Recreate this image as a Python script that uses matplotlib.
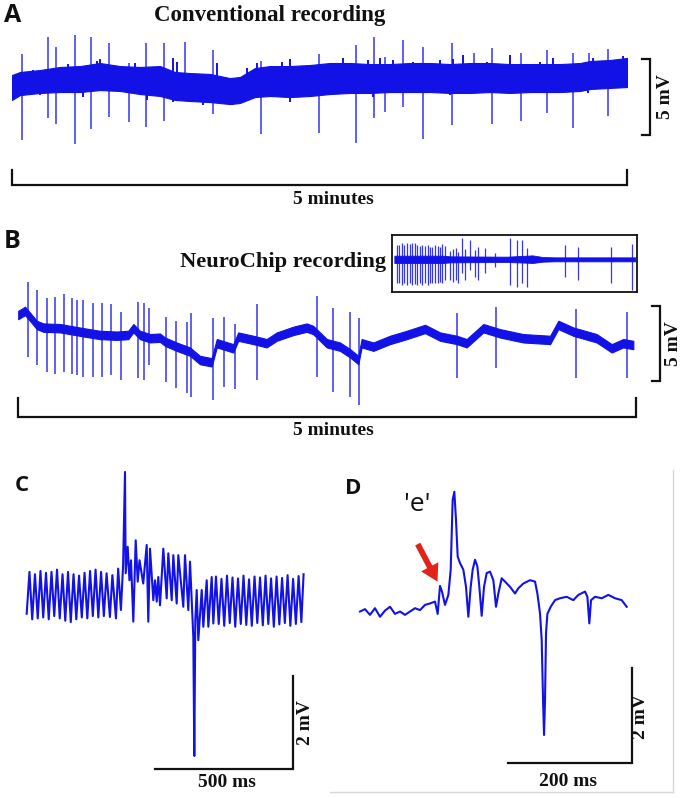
import matplotlib
matplotlib.use('Agg')
import matplotlib.pyplot as plt

# ---------------- dados ----------------
# Painel A: registro convencional (t em s, v em mV), envelope da faixa de ruido
a_t = [0, 3.9, 13.7, 23.4, 33.2, 42.9, 52.7, 62.4, 72.2, 79.5, 86.8, 96.6, 106.3, 111.2,
       118.5, 125.9, 135.6, 145.4, 155.1, 164.9, 174.6, 184.4, 194.1, 203.9, 213.7, 223.4,
       233.2, 242.9, 252.7, 267.3, 277.1, 282, 291.7, 300]
a_hi = [0.46, 0.66, 0.79, 0.99, 1.05, 1.25, 1.05, 0.99, 1.05, 0.66, 0.59, 0.53, 0.26, 0.33,
        0.92, 1.05, 1.05, 1.12, 1.25, 1.25, 1.18, 1.18, 1.25, 1.25, 1.18, 1.25, 1.25, 1.18,
        1.18, 1.18, 1.25, 1.38, 1.45, 1.58]
a_lo = [-1.18, -0.86, -0.72, -0.66, -0.66, -0.53, -0.59, -0.79, -0.92, -1.18, -1.25, -1.32,
        -1.45, -1.38, -0.99, -0.92, -0.99, -0.92, -0.79, -0.72, -0.72, -0.66, -0.66, -0.66,
        -0.72, -0.72, -0.66, -0.72, -0.66, -0.66, -0.59, -0.46, -0.39, -0.33]
# pequenos picos na borda superior e vales na borda inferior da faixa
a_bump_t = [10.4, 27.5, 41.3, 42.9, 60, 78.7, 80.3, 99.9, 114.5, 119.4, 131.6, 135.6, 140.5,
            161.6, 173.8, 179.5, 186, 195.8, 208.8, 215.3, 220.1, 231.6, 242.9, 257.6, 264,
            283.6, 298.2]
a_bump_hi = [0.79, 1.18, 1.40, 1.51, 1.27, 1.58, 1.34, 1.25, 0.92, 1.25, 1.34, 1.51, 1.01,
             1.58, 1.45, 1.58, 1.45, 1.34, 1.45, 1.51, 1.78, 1.34, 1.78, 1.34, 1.58, 1.58, 1.71]
a_dip_t = [13.7, 34.8, 65.7, 78.7, 93.3, 108, 135.6, 176.2, 213.7, 251, 281]
a_dip_lo = [-0.86, -0.96, -1.18, -1.30, -1.51, -1.51, -1.30, -0.96, -0.86, -0.74, -0.74]
# espigas (potenciais de campo)
a_spk_t = [4.7, 17.4, 21.5, 30.9, 38.4, 47.5, 57.2, 65.2, 74.1, 84.4, 98.2, 121.5, 135.6,
           149.8, 167.8, 176.7, 182, 190.6, 200.6, 214.5, 225.5, 234, 248.3, 261, 273.8,
           281.5, 290.6]
a_spk_hi = [1.84, 2.98, 2.30, 3.07, 2.94, 2.59, 1.25, 2.59, 2.59, 2.65, 2.11, 1.40, 1.45,
            1.84, 2.43, 2.94, 1.66, 2.76, 2.32, 2.59, 1.91, 2.22, 1.89, 2.10, 1.93, 1.89, 2.17]
a_spk_lo = [-3.82, -2.37, -2.76, -4.08, -3.09, -2.28, -2.61, -2.96, -2.55, -0.99, -2.11,
            -3.42, -1.00, -3.34, -4.01, -2.37, -1.95, -1.63, -3.77, -2.83, -0.72, -2.76,
            -2.55, -2.04, -3.05, -0.53, -2.24]

# Painel B: NeuroChip (t em s, v em mV), linha de base e espigas
b_t = [0.1, 3.4, 5.8, 9.1, 12.3, 20.4, 31.7, 39.8, 47.9, 53.5, 56.0, 59.2, 64.1, 68.9, 71.4,
       77.0, 83.5, 88.3, 94.0, 96.5, 104.5, 106.9, 114.2, 120.7, 125.6, 133.6, 140.1, 143.3,
       149.9, 156.3, 161.2, 165.2, 166.8, 172.5, 180.6, 188.7, 197.6, 204.9, 213.0, 217.8,
       225.9, 234.0, 245.3, 258.3, 262.3, 269.6, 280.9, 288.2, 293.8, 298.7]
b_v = [1.93, 2.2, 1.82, 1.27, 1.09, 1.05, 0.78, 0.6, 0.55, 0.6, 1.05, 0.6, 0.38, 0.42, 0.15,
       -0.18, -0.51, -1.07, -1.22, 0.05, -0.29, 0.49, 0.27, 0.05, 0.49, 0.87, 1.09, 0.93,
       0.05, -0.18, -0.62, -1.07, 0.05, -0.18, 0.27, 0.6, 1.0, 0.49, 0.27, 0.05, 1.05, 0.71,
       0.38, 0.27, 1.27, 0.82, 0.38, -0.29, 0.05, -0.07]
b_spk_t = [5.0, 9.1, 14.2, 18.0, 22.3, 26.1, 28.8, 31.4, 36.3, 40.6, 45.0, 49.9, 58.4, 61.2,
           63.6, 71.7, 76.6, 81.9, 84.0, 94.8, 100.1, 105.3, 116.2, 145.0, 152.8, 161.2,
           165.5, 213.0, 232.0, 270.9, 295.8]
b_spk_hi = [4.11, 3.6, 3.09, 3.15, 3.33, 3.05, 2.93, 2.93, 2.71, 2.71, 2.65, 2.15, 2.82, 2.71,
            2.38, 1.82, 1.53, 1.49, 2.05, 1.75, 1.82, 1.31, 2.67, 3.22, 2.38, 2.11, 1.75,
            2.05, 2.49, 2.33, 2.11]
b_spk_lo = [-0.85, -1.4, -1.85, -2.0, -1.89, -2.02, -2.07, -2.18, -2.18, -2.18, -2.07, -2.4,
            -2.29, -2.4, -1.4, -2.51, -2.91, -3.29, -3.51, -3.73, -2.85, -3.0, -2.4, -2.18,
            -3.22, -3.51, -4.07, -2.29, -1.62, -2.25, -2.29]

# Inset do painel B (unidades arbitrarias)
ins_t = [0, 60, 70, 140, 165, 172, 185, 200, 300]
ins_hi = [0.55, 0.55, 0.45, 0.40, 0.55, 0.60, 0.35, 0.30, 0.30]
ins_lo = [-0.55, -0.55, -0.45, -0.40, -0.50, -0.55, -0.35, -0.30, -0.30]
ins_spk_t = [2.9, 5.8, 9.1, 12.5, 15.4, 19.5, 22.4, 25.8, 28.7, 32.0, 34.9, 38.2, 41.6, 44.5,
             47.4, 50.7, 54.0, 56.9, 59.8, 63.2, 69.4, 73.5, 76.5, 79.8, 84.8, 88.1, 94.3,
             100.6, 104.7, 113.0, 125.5, 144.2, 152.5, 159.6, 165.0, 212.7, 229.4, 270.1, 295.8]
ins_spk_hi = [2.15, 2.15, 2.4, 2.15, 2.4, 2.3, 2.4, 2.4, 2.15, 2.0, 2.15, 2.0, 2.15, 1.9, 1.9,
              2.15, 2.0, 1.8, 2.3, 2.0, 1.3, 1.5, 1.65, 1.15, 3.15, 1.5, 2.9, 1.4, 1.9, 1.65,
              0.9, 3.15, 2.9, 2.9, 1.65, 2.15, 1.9, 1.9, 2.3]
ins_spk_lo = [-3.6, -3.6, -3.85, -3.6, -3.85, -3.6, -3.85, -3.7, -3.85, -3.6, -3.85, -3.6,
              -3.85, -3.6, -3.6, -3.5, -3.6, -3.35, -3.6, -3.1, -3.1, -3.35, -3.1, -3.6, -2.1,
              -3.1, -1.6, -2.6, -3.1, -2.1, -1.1, -3.85, -4.1, -3.6, -4.1, -2.6, -3.1, -3.6, -4.6]

# Painel C (t em ms, v em mV): zumbido de 50 Hz + evento
c_t_left = [0, 10, 20, 30, 40, 50, 60, 70, 80, 90, 100, 110, 120, 130, 140, 150, 160, 170,
            180, 190, 200, 210, 220, 230, 240, 250, 260, 270, 280]
c_v_left = [-0.40, 0.50, -0.52, 0.45, -0.50, 0.52, -0.48, 0.48, -0.52, 0.50, -0.45, 0.55,
            -0.50, 0.45, -0.55, 0.50, -0.58, 0.45, -0.52, 0.42, -0.48, 0.48, -0.50, 0.52,
            -0.45, 0.55, -0.48, 0.50, -0.45]
c_t_mid = [290, 302, 311, 324, 332, 342, 350, 356.8, 359.3, 366.6, 373, 378.6, 387, 395.7,
           403, 409.5, 423, 435.6, 441.4, 447.6, 459.6, 465.7, 471.9, 477.7, 483.9, 495.9,
           508.2, 514, 526.4, 532.2, 544.5, 550.3, 568.5, 574.6, 586.6, 592.8, 604.8, 608.4,
           612, 617.1, 622.9, 635.3, 641.1, 653.4, 659.3, 671.6, 677.4]
c_v_mid = [0.47, -0.47, 0.43, -0.50, 0.57, -0.32, 0.65, 2.65, 0.47, 1.04, 0.32, 0.75, -0.57,
           1.18, 0.29, 0.75, 0.25, 1.08, -0.57, 1.0, -0.11, 0.32, -0.14, 0.39, -0.22, 1.0,
           -0.07, 0.90, -0.11, 0.86, -0.18, 0.86, -0.25, 0.86, -0.32, 0.72, -0.90, -3.46,
           -0.54, 0.11, -0.97, 0.11, -0.68, 0.32, -0.68, 0.39, -0.61]
c_t_right = [687, 697, 707, 717, 727, 737, 747, 757, 767, 777, 787, 797, 807, 817, 827, 837,
             847, 857, 867, 877, 887, 897, 907, 917, 927, 937, 947, 957, 967, 977, 987, 997,
             1005]
c_v_right = [0.40, -0.62, 0.35, -0.66, 0.42, -0.60, 0.38, -0.68, 0.36, -0.62, 0.42, -0.64,
             0.34, -0.66, 0.40, -0.60, 0.38, -0.65, 0.42, -0.62, 0.36, -0.68, 0.40, -0.63,
             0.37, -0.60, 0.43, -0.66, 0.35, -0.62, 0.41, -0.58, 0.45]

# Painel D (t em ms, v em mV)
d_t = [0, 8.1, 16.2, 24.3, 32.4, 40.5, 48.6, 56.7, 64.8, 72.9, 81, 89.1, 97.2, 105.3, 113.4,
       121.5, 125.8, 129.6, 132.8, 137.7, 143.1, 146.9, 150.1, 152.8, 155.5, 158.2, 162,
       167.4, 171.7, 175.5, 179.3, 182.5, 186.3, 190.1, 193.3, 197.1, 200.9, 205.2, 210.6,
       216, 220.3, 224.1, 229.5, 234.9, 243, 251.1, 256.5, 264.6, 275.4, 283.5, 287.3,
       291.6, 294.3, 296.5, 298.1, 299.7, 301.3, 303.5, 308.9, 315.9, 324, 334.8, 345.6,
       353.7, 364.5, 368.3, 371.5, 374.2, 380.7, 391.5, 402.3, 413.1, 423.9, 432]
d_v = [0.03, 0.08, -0.04, 0.10, -0.08, 0.05, 0.13, -0.02, 0.03, -0.04, 0.03, 0.10, 0.06,
       0.17, 0.20, 0.24, -0.02, 0.57, 0.45, 0.17, 0.38, 0.91, 2.38, 2.55, 1.96, 1.19, 1.05,
       0.91, 0.55, -0.08, 0.55, 0.91, 1.12, 0.98, 0.55, -0.06, 0.55, 0.84, 0.87, 0.69, 0.13,
       0.41, 0.73, 0.66, 0.55, 0.41, 0.52, 0.62, 0.69, 0.66, 0.41, -0.01, -0.57, -1.83,
       -2.57, -1.83, -0.43, -0.02, 0.13, 0.27, 0.31, 0.34, 0.27, 0.38, 0.45, 0.34, -0.22,
       0.27, 0.34, 0.31, 0.38, 0.31, 0.27, 0.13]

# ---------------- figura ----------------
W, H = 683, 798
AZUL = '#1212e6'
PRETO = '#111111'
serif = dict(family='Liberation Serif', weight='bold', size=14, color=PRETO)
letra = dict(family='Open Sans', weight='bold', size=18, color=PRETO)

fig = plt.figure(figsize=(W / 100, H / 100), dpi=100)


def caixa(x0, y0, x1, y1):
    # eixos posicionados em pixels da imagem
    ax = fig.add_axes([x0 / W, 1 - y1 / H, (x1 - x0) / W, (y1 - y0) / H])
    ax.set_axis_off()
    return ax


def barra_mv(ax, x, y0, y1, dx):
    ax.plot([x - dx, x, x, x - dx], [y1, y1, y0, y0], color=PRETO, lw=1.6, clip_on=False,
            solid_joinstyle='miter')


def barra_tempo(ax, x0, x1, y, dy):
    ax.plot([x0, x0, x1, x1], [y + dy, y, y, y + dy], color=PRETO, lw=1.6, clip_on=False,
            solid_joinstyle='miter')


# ---- A ----
axA = caixa(12, 25, 627, 205)
axA.set_xlim(0, 300)
axA.set_ylim(-8.09, 3.75)
axA.fill_between(a_t, a_lo, a_hi, color=AZUL, lw=0.8)
axA.vlines(a_bump_t, 0, a_bump_hi, color=AZUL, lw=1.4)
axA.vlines(a_dip_t, a_dip_lo, 0, color=AZUL, lw=1.4)
axA.vlines(a_spk_t, a_spk_lo, a_spk_hi, color=AZUL, lw=1.1, alpha=0.85)
barra_mv(axA, 311.2, -3.49, 1.51, 3.9)
axA.text(319, -0.99, '5 mV', rotation=90, ha='center', va='center', **serif)
barra_tempo(axA, 0, 300, -6.78, 0.99)
axA.text(157, -7.75, '5 minutes', ha='center', va='center', **serif)
fig.text(270 / W, 1 - 15 / H, 'Conventional recording', ha='center', va='center',
         **dict(serif, size=16.5))
fig.text(4 / W, 1 - 16 / H, 'A', ha='left', va='center', **letra)

# ---- B ----
axB = caixa(18, 270, 636, 440)
axB.set_xlim(0, 300)
axB.set_ylim(-6.4, 4.93)
axB.fill_between(b_t, [v - 0.28 for v in b_v], [v + 0.28 for v in b_v], color=AZUL, lw=0.8)
axB.vlines(b_spk_t, b_spk_lo, b_spk_hi, color=AZUL, lw=1.1, alpha=0.85)
barra_mv(axB, 311.7, -2.5, 2.5, 3.9)
axB.text(318, 0, '5 mV', rotation=90, ha='center', va='center', **serif)
barra_tempo(axB, 0, 300, -4.85, 1.23)
axB.text(153, -5.78, '5 minutes', ha='center', va='center', **serif)
fig.text(386 / W, 1 - 262 / H, 'NeuroChip recording', ha='right', va='center',
         **dict(serif, size=16.2))
fig.text(4 / W, 1 - 241 / H, 'B', ha='left', va='center', **letra)

# inset
axI = fig.add_axes([391.7 / W, 1 - 291.7 / H, 245 / W, 56.7 / H])
axI.set_xlim(-3.3, 302)
axI.set_ylim(-4.85, 3.65)
axI.set_xticks([])
axI.set_yticks([])
for s in axI.spines.values():
    s.set_linewidth(1.3)
    s.set_color(PRETO)
axI.fill_between(ins_t, ins_lo, ins_hi, color=AZUL, lw=0.6)
axI.vlines(ins_spk_t, ins_spk_lo, ins_spk_hi, color=AZUL, lw=0.9, alpha=0.85)

# ---- C ----
axC = caixa(20, 465, 312, 795)
axC.set_xlim(-24.3, 1035.6)
axC.set_ylim(-4.30, 2.80)
axC.plot(c_t_left + c_t_mid + c_t_right, c_v_left + c_v_mid + c_v_right, color=AZUL, lw=1.5)
barra_c_ms, barra_c_mv = 500, 2
axC.plot([965.6 - barra_c_ms, 965.6, 965.6], [-3.73, -3.73, -3.73 + barra_c_mv],
         color=PRETO, lw=1.6, clip_on=False, solid_joinstyle='miter')
axC.text(1012, -2.73, '2 mV', rotation=90, ha='center', va='center', **serif)
axC.text(726, -4.03, '500 ms', ha='center', va='center', **serif)
fig.text(15 / W, 1 - 485 / H, 'C', ha='left', va='center', **dict(letra, size=16))

# ---- D ----
axD = fig.add_axes([330 / W, 1 - 792 / H, 343 / W, 322 / H])
axD.set_xlim(-48.6, 507)
axD.set_ylim(-3.77, 3.01)
axD.set_xticks([])
axD.set_yticks([])
for lado in ['top', 'left']:
    axD.spines[lado].set_visible(False)
for lado in ['right', 'bottom']:
    axD.spines[lado].set_color('#d8d8d8')
    axD.spines[lado].set_linewidth(1.0)
axD.plot(d_t, d_v, color=AZUL, lw=1.5)
barra_d_ms, barra_d_mv = 200, 2
axD.plot([440.1 - barra_d_ms, 440.1, 440.1], [-3.16, -3.16, -3.16 + barra_d_mv],
         color=PRETO, lw=1.6, clip_on=False, solid_joinstyle='miter')
axD.text(455, -2.18, '2 mV', rotation=90, ha='center', va='center', **serif)
axD.text(337, -3.55, '200 ms', ha='center', va='center', **serif)
axD.text(92.3, 2.28, "'e'", ha='center', va='center', family='Open Sans', size=19,
         color=PRETO)
axD.annotate('', xy=(125.5, 0.66), xytext=(93.5, 1.45),
             arrowprops=dict(facecolor='#e2231a', edgecolor='none', width=4.2,
                             headwidth=14, headlength=12, shrink=0))
fig.text(345 / W, 1 - 488 / H, 'D', ha='left', va='center', **dict(letra, size=16))

fig.savefig('out.png', dpi=100)
plt.close(fig)
